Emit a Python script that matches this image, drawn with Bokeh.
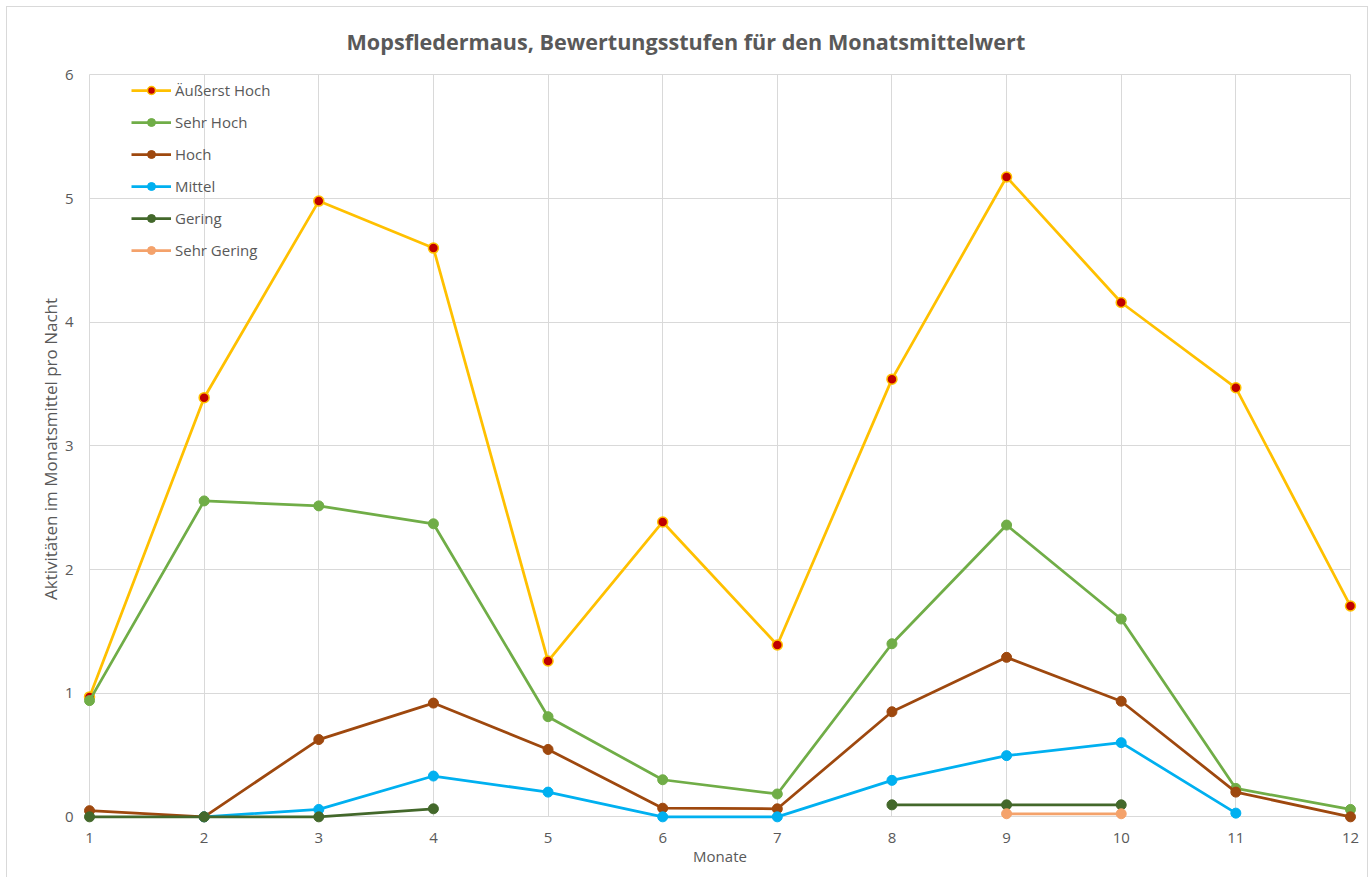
from bokeh.plotting import figure
from bokeh.models import Range1d, Legend, LegendItem, FixedTicker
from bokeh.embed import file_html
from bokeh.resources import INLINE

nan = float("nan")

months = [1, 2, 3, 4, 5, 6, 7, 8, 9, 10, 11, 12]
y_ticks = [0, 1, 2, 3, 4, 5, 6]

aeusserst_hoch = [0.97, 3.39, 4.98, 4.60, 1.26, 2.385, 1.39, 3.54, 5.175, 4.16, 3.47, 1.705]
sehr_hoch = [0.94, 2.555, 2.515, 2.37, 0.81, 0.30, 0.185, 1.40, 2.36, 1.60, 0.23, 0.06]
hoch = [0.05, 0.0, 0.625, 0.92, 0.545, 0.07, 0.065, 0.85, 1.29, 0.935, 0.20, 0.0]
mittel = [nan, 0.0, 0.06, 0.33, 0.20, 0.0, 0.0, 0.295, 0.495, 0.60, 0.03, nan]
gering = [0.0, 0.0, 0.0, 0.065, nan, nan, nan, 0.097, 0.097, 0.097, nan, nan]
sehr_gering = [nan, nan, nan, nan, nan, nan, nan, nan, 0.025, 0.025, nan, nan]

series_names = ["Äußerst Hoch", "Sehr Hoch", "Hoch", "Mittel", "Gering", "Sehr Gering"]
series_values = [aeusserst_hoch, sehr_hoch, hoch, mittel, gering, sehr_gering]
line_colors = ["#FFC000", "#70AD47", "#9E480E", "#00B0F0", "#43682B", "#F4A26B"]
fill_colors = ["#C00000", "#70AD47", "#9E480E", "#00B0F0", "#43682B", "#F4A26B"]

title_text = "Mopsfledermaus, Bewertungsstufen für den Monatsmittelwert"

FONT = "Open Sans"
TXT = "#595959"
GRID = "#D9D9D9"

W, H = 1362, 871
BL, BR, BT, BB = 74, 11, 65, 53

p = figure(width=W, height=H, output_backend="svg", toolbar_location=None,
           x_range=Range1d(0.93, 12.07), y_range=Range1d(-0.07, 6.02),
           min_border_left=BL, min_border_right=BR, min_border_top=BT, min_border_bottom=BB)
p.styles = {"border": "1px solid #D9D9D9", "border-bottom": "none",
            "margin-left": "6px", "margin-top": "6px"}
p.outline_line_color = None

p.title.text = title_text
p.title.align = "left"
p.title.offset = 265
p.title.standoff = 34
p.title.text_font = FONT
p.title.text_font_size = "21.6px"
p.title.text_font_style = "bold"
p.title.text_color = TXT

p.xaxis.ticker = FixedTicker(ticks=months)
p.yaxis.ticker = FixedTicker(ticks=y_ticks)
for ax in (p.xaxis, p.yaxis):
    ax.axis_line_color = None
    ax.major_tick_line_color = None
    ax.minor_tick_line_color = None
    ax.major_tick_out = 0
    ax.major_tick_in = 0
    ax.minor_tick_out = 0
    ax.minor_tick_in = 0
    ax.major_label_text_font = FONT
    ax.major_label_text_font_size = "15px"
    ax.major_label_text_color = TXT
    ax.axis_label_text_font = FONT
    ax.axis_label_text_font_style = "normal"
    ax.axis_label_text_color = TXT
p.xaxis.axis_label = "Monate"
p.yaxis.axis_label = "Aktivitäten im Monatsmittel pro Nacht"
p.xaxis.axis_label_text_font_size = "15px"
p.yaxis.axis_label_text_font_size = "17px"
p.xaxis.major_label_standoff = 7
p.yaxis.major_label_standoff = 8
p.xaxis.axis_label_standoff = 0
p.yaxis.axis_label_standoff = 0

p.xgrid.ticker = FixedTicker(ticks=months)
p.ygrid.ticker = FixedTicker(ticks=y_ticks)
p.grid.grid_line_color = GRID
p.grid.grid_line_width = 1
try:
    p.ygrid.cross_bounds = (1, 12)
    p.xgrid.cross_bounds = (0, 6)
except Exception:
    pass

items = []
for name, vals, lc, fc in zip(series_names, series_values, line_colors, fill_colors):
    rl = p.line(months, vals, line_color=lc, line_width=2.75)
    rs = p.scatter(months, vals, size=10, fill_color=fc, line_color=lc,
                   line_width=1.5 if name == "Äußerst Hoch" else 1)
    items.append(LegendItem(label=name, renderers=[rl, rs]))

frame_h = H - BT - BB
legend = Legend(items=items, location=(50, frame_h - 8 - 180), padding=0, margin=0,
                border_line_color=None, background_fill_alpha=0,
                glyph_width=40, glyph_height=20, label_height=20, spacing=12,
                label_standoff=4, label_text_font=FONT, label_text_font_size="15px",
                label_text_color=TXT)
p.add_layout(legend, "center")

open("out.html", "w").write(file_html(p, INLINE))
